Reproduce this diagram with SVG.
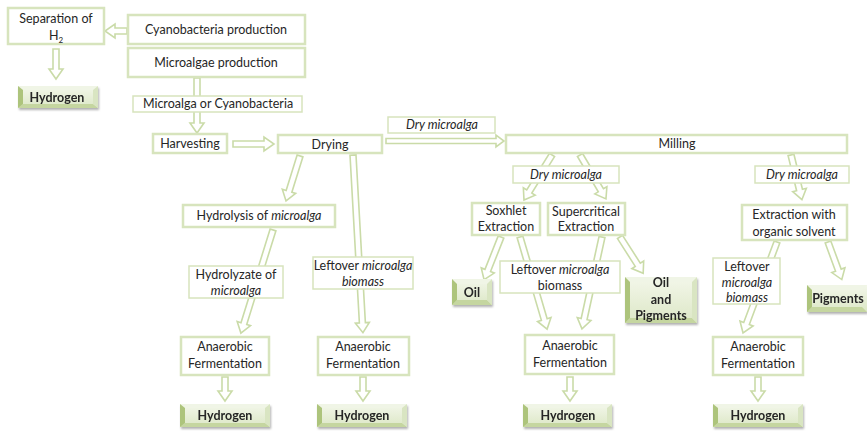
<svg xmlns="http://www.w3.org/2000/svg" width="867" height="431" viewBox="0 0 867 431">
<defs>
<style>
.box{fill:#fff;stroke:#d7e4bd;stroke-width:2.5}
.lab{fill:#fff;stroke:#d7e4bd;stroke-width:1.5}
.arr{fill:#fff;stroke:#cadba8;stroke-width:1.6;stroke-linejoin:miter}
.t{font-family:Lato,"Liberation Sans",sans-serif;font-size:12.5px;fill:#262626;text-anchor:middle}
.i{font-style:italic}
.b{font-weight:bold}
.face{fill:url(#gf)}
.bt{fill:#f0f5e6}
.bb{fill:#c5d6a0}
.bl{fill:#adc47c}
.br{fill:#d9e5c2}
</style>
<linearGradient id="gf" x1="0" y1="0" x2="0" y2="1">
<stop offset="0" stop-color="#f3f7ea"/>
<stop offset="1" stop-color="#dce7c6"/>
</linearGradient>
<filter id="sh" x="-20%" y="-30%" width="140%" height="170%">
<feDropShadow dx="1" dy="2" stdDeviation="1.3" flood-color="#000" flood-opacity="0.3"/>
</filter>
</defs>
<rect width="867" height="431" fill="#fff"/>

<g id="connectors">
<polygon class="arr" points="0,-3 12,-3 12,-7 22,0 12,7 12,3 0,3" transform="translate(127 31) rotate(180)"/>
<polygon class="arr" points="0,-3 20,-3 20,-7 30,0 20,7 20,3 0,3" transform="translate(56 49) rotate(90)"/>
<polygon class="arr" points="0,-3 45,-3 45,-7 55,0 45,7 45,3 0,3" transform="translate(197 78) rotate(90)"/>
<polygon class="arr" points="0,-3 31,-3 31,-7 41,0 31,7 31,3 0,3" transform="translate(233 144)"/>
<polygon class="arr" points="0,-2.5 110,-2.5 110,-6 118,0 110,6 110,2.5 0,2.5" transform="translate(386 141)"/>
<polygon class="arr" points="0,-3 37,-3 37,-7 47,0 37,7 37,3 0,3" transform="translate(300 156) rotate(107.3)"/>
<polygon class="arr" points="0,-3 168,-3 168,-7 178,0 168,7 168,3 0,3" transform="translate(353 155) rotate(86.8)"/>
<polygon class="arr" points="0,-3 98,-3 98,-7 108,0 98,7 98,3 0,3" transform="translate(273 230) rotate(107.3)"/>
<polygon class="arr" points="0,-3 14,-3 14,-7 24,0 14,7 14,3 0,3" transform="translate(225 377) rotate(90)"/>
<polygon class="arr" points="0,-3 14,-3 14,-7 24,0 14,7 14,3 0,3" transform="translate(363 377) rotate(90)"/>
<polygon class="arr" points="0,-3 43,-3 43,-7 53,0 43,7 43,3 0,3" transform="translate(552 155) rotate(121.9)"/>
<polygon class="arr" points="0,-3 41,-3 41,-7 51,0 41,7 41,3 0,3" transform="translate(580 155) rotate(59.4)"/>
<polygon class="arr" points="0,-3 36,-3 36,-7 46,0 36,7 36,3 0,3" transform="translate(791 155) rotate(76.3)"/>
<polygon class="arr" points="0,-3 36,-3 36,-7 46,0 36,7 36,3 0,3" transform="translate(501 237) rotate(111.6)"/>
<polygon class="arr" points="0,-3 86,-3 86,-7 96,0 86,7 86,3 0,3" transform="translate(520 237) rotate(73.6)"/>
<polygon class="arr" points="0,-3 84,-3 84,-7 94,0 84,7 84,3 0,3" transform="translate(602 237) rotate(102.3)"/>
<polygon class="arr" points="0,-3 33,-3 33,-7 43,0 33,7 33,3 0,3" transform="translate(620 237) rotate(57.4)"/>
<polygon class="arr" points="0,-3 14,-3 14,-7 24,0 14,7 14,3 0,3" transform="translate(570 377) rotate(90)"/>
<polygon class="arr" points="0,-3 87,-3 87,-7 97,0 87,7 87,3 0,3" transform="translate(777 242) rotate(110.5)"/>
<polygon class="arr" points="0,-3 30,-3 30,-7 40,0 30,7 30,3 0,3" transform="translate(828 242) rotate(69.8)"/>
<polygon class="arr" points="0,-3 14,-3 14,-7 24,0 14,7 14,3 0,3" transform="translate(758 377) rotate(90)"/>
</g>

<g id="separation">
<rect class="box" x="8" y="8" width="96" height="36"/>
<text class="t" x="56" y="23">Separation of</text>
<text class="t" x="56" y="40">H<tspan font-size="8" dy="3">2</tspan></text>
</g>
<g id="cyano">
<rect class="box" x="128" y="15" width="177" height="29"/>
<text class="t" x="216" y="34">Cyanobacteria  production</text>
</g>
<g id="microalgae">
<rect class="box" x="128" y="48" width="177" height="29"/>
<text class="t" x="216" y="67">Microalgae production</text>
</g>
<g id="h2-top" filter="url(#sh)">
<rect class="face" x="18" y="86" width="80" height="22"/>
<polygon class="bt" points="18,86 98,86 93,90 23,90"/>
<polygon class="bb" points="18,108 98,108 93,104 23,104"/>
<polygon class="bl" points="18,86 23,90 23,104 18,108"/>
<polygon class="br" points="98,86 93,90 93,104 98,108"/>
<text class="t b" x="57" y="102">Hydrogen</text>
</g>
<g id="microalga-label">
<rect class="lab" x="133" y="96" width="169" height="16"/>
<text class="t" x="218" y="108">Microalga or Cyanobacteria</text>
</g>
<g id="harvesting">
<rect class="box" x="153" y="134" width="74" height="19"/>
<text class="t" x="190" y="148">Harvesting</text>
</g>
<g id="drying">
<rect class="box" x="278" y="135" width="104" height="18"/>
<text class="t" x="330" y="149">Drying</text>
</g>
<g id="dry-label-1">
<rect class="lab" x="388" y="117" width="107" height="16"/>
<text class="t i" x="442" y="129">Dry microalga</text>
</g>
<g id="milling">
<rect class="box" x="506" y="135" width="341" height="18"/>
<text class="t" x="677" y="148">Milling</text>
</g>
<g id="dry-label-2">
<rect class="lab" x="513" y="166" width="106" height="17"/>
<text class="t i" x="566" y="179">Dry microalga</text>
</g>
<g id="dry-label-3">
<rect class="lab" x="755" y="166" width="94" height="17"/>
<text class="t i" x="802" y="179">Dry microalga</text>
</g>
<g id="hydrolysis">
<rect class="box" x="183" y="205" width="152" height="22"/>
<text class="t" x="259" y="220">Hydrolysis  of <tspan class="i">microalga</tspan></text>
</g>
<g id="hydrolyzate">
<rect class="lab" x="189" y="266" width="94" height="32"/>
<text class="t" x="236" y="279">Hydrolyzate of</text>
<text class="t i" x="236" y="295">microalga</text>
</g>
<g id="leftover-1">
<rect class="lab" x="313" y="257" width="100" height="32"/>
<text class="t" x="363" y="270">Leftover <tspan class="i">microalga</tspan></text>
<text class="t i" x="363" y="286">biomass</text>
</g>
<g id="soxhlet">
<rect class="box" x="472" y="203" width="68" height="32"/>
<text class="t" x="506" y="215">Soxhlet</text>
<text class="t" x="506" y="231">Extraction</text>
</g>
<g id="supercritical">
<rect class="box" x="548" y="203" width="77" height="32"/>
<text class="t" x="586" y="216">Supercritical</text>
<text class="t" x="586" y="231">Extraction</text>
</g>
<g id="leftover-2">
<rect class="lab" x="500" y="261" width="120" height="32"/>
<text class="t" x="560" y="274">Leftover <tspan class="i">microalga</tspan></text>
<text class="t" x="560" y="290">biomass</text>
</g>
<g id="oil" filter="url(#sh)">
<rect class="face" x="452" y="279" width="40" height="26"/>
<polygon class="bt" points="452,279 492,279 487,284 457,284"/>
<polygon class="bb" points="452,305 492,305 487,300 457,300"/>
<polygon class="bl" points="452,279 457,284 457,300 452,305"/>
<polygon class="br" points="492,279 487,284 487,300 492,305"/>
<text class="t b" x="472" y="297">Oil</text>
</g>
<g id="oil-pigments" filter="url(#sh)">
<rect class="face" x="625" y="277" width="72" height="46"/>
<polygon class="bt" points="625,277 697,277 692,282 630,282"/>
<polygon class="bb" points="625,323 697,323 692,318 630,318"/>
<polygon class="bl" points="625,277 630,282 630,318 625,323"/>
<polygon class="br" points="697,277 692,282 692,318 697,323"/>
<text class="t b" x="661" y="287">Oil</text>
<text class="t b" x="661" y="304">and</text>
<text class="t b" x="661" y="320">Pigments</text>
</g>
<g id="extraction-solvent">
<rect class="box" x="742" y="205" width="105" height="35"/>
<text class="t" x="794" y="219">Extraction with</text>
<text class="t" x="794" y="236">organic solvent</text>
</g>
<g id="leftover-3">
<rect class="lab" x="713" y="258" width="67" height="46"/>
<text class="t" x="747" y="271">Leftover</text>
<text class="t i" x="747" y="287">microalga</text>
<text class="t i" x="747" y="302">biomass</text>
</g>
<g id="pigments" filter="url(#sh)">
<rect class="face" x="807" y="285" width="60" height="27"/>
<polygon class="bt" points="807,285 867,285 862,290 812,290"/>
<polygon class="bb" points="807,312 867,312 862,307 812,307"/>
<polygon class="bl" points="807,285 812,290 812,307 807,312"/>
<text class="t b" x="838" y="303">Pigments</text>
</g>
<g id="anaerobic-1">
<rect class="box" x="181" y="337" width="88" height="38"/>
<text class="t" x="225" y="351">Anaerobic</text>
<text class="t" x="225" y="368">Fermentation</text>
</g>
<g id="anaerobic-2">
<rect class="box" x="318" y="337" width="91" height="38"/>
<text class="t" x="363" y="351">Anaerobic</text>
<text class="t" x="363" y="368">Fermentation</text>
</g>
<g id="anaerobic-3">
<rect class="box" x="525" y="335" width="89" height="39"/>
<text class="t" x="570" y="350">Anaerobic</text>
<text class="t" x="570" y="367">Fermentation</text>
</g>
<g id="anaerobic-4">
<rect class="box" x="713" y="337" width="90" height="38"/>
<text class="t" x="758" y="351">Anaerobic</text>
<text class="t" x="758" y="368">Fermentation</text>
</g>
<g id="h2-1" filter="url(#sh)">
<rect class="face" x="180" y="404" width="90" height="23"/>
<polygon class="bt" points="180,404 270,404 265,408 185,408"/>
<polygon class="bb" points="180,427 270,427 265,423 185,423"/>
<polygon class="bl" points="180,404 185,408 185,423 180,427"/>
<polygon class="br" points="270,404 265,408 265,423 270,427"/>
<text class="t b" x="225" y="420">Hydrogen</text>
</g>
<g id="h2-2" filter="url(#sh)">
<rect class="face" x="317" y="404" width="90" height="23"/>
<polygon class="bt" points="317,404 407,404 402,408 322,408"/>
<polygon class="bb" points="317,427 407,427 402,423 322,423"/>
<polygon class="bl" points="317,404 322,408 322,423 317,427"/>
<polygon class="br" points="407,404 402,408 402,423 407,427"/>
<text class="t b" x="362" y="420">Hydrogen</text>
</g>
<g id="h2-3" filter="url(#sh)">
<rect class="face" x="523" y="404" width="89" height="23"/>
<polygon class="bt" points="523,404 612,404 607,408 528,408"/>
<polygon class="bb" points="523,427 612,427 607,423 528,423"/>
<polygon class="bl" points="523,404 528,408 528,423 523,427"/>
<polygon class="br" points="612,404 607,408 607,423 612,427"/>
<text class="t b" x="568" y="420">Hydrogen</text>
</g>
<g id="h2-4" filter="url(#sh)">
<rect class="face" x="713" y="404" width="90" height="23"/>
<polygon class="bt" points="713,404 803,404 798,408 718,408"/>
<polygon class="bb" points="713,427 803,427 798,423 718,423"/>
<polygon class="bl" points="713,404 718,408 718,423 713,427"/>
<polygon class="br" points="803,404 798,408 798,423 803,427"/>
<text class="t b" x="758" y="420">Hydrogen</text>
</g>
</svg>
